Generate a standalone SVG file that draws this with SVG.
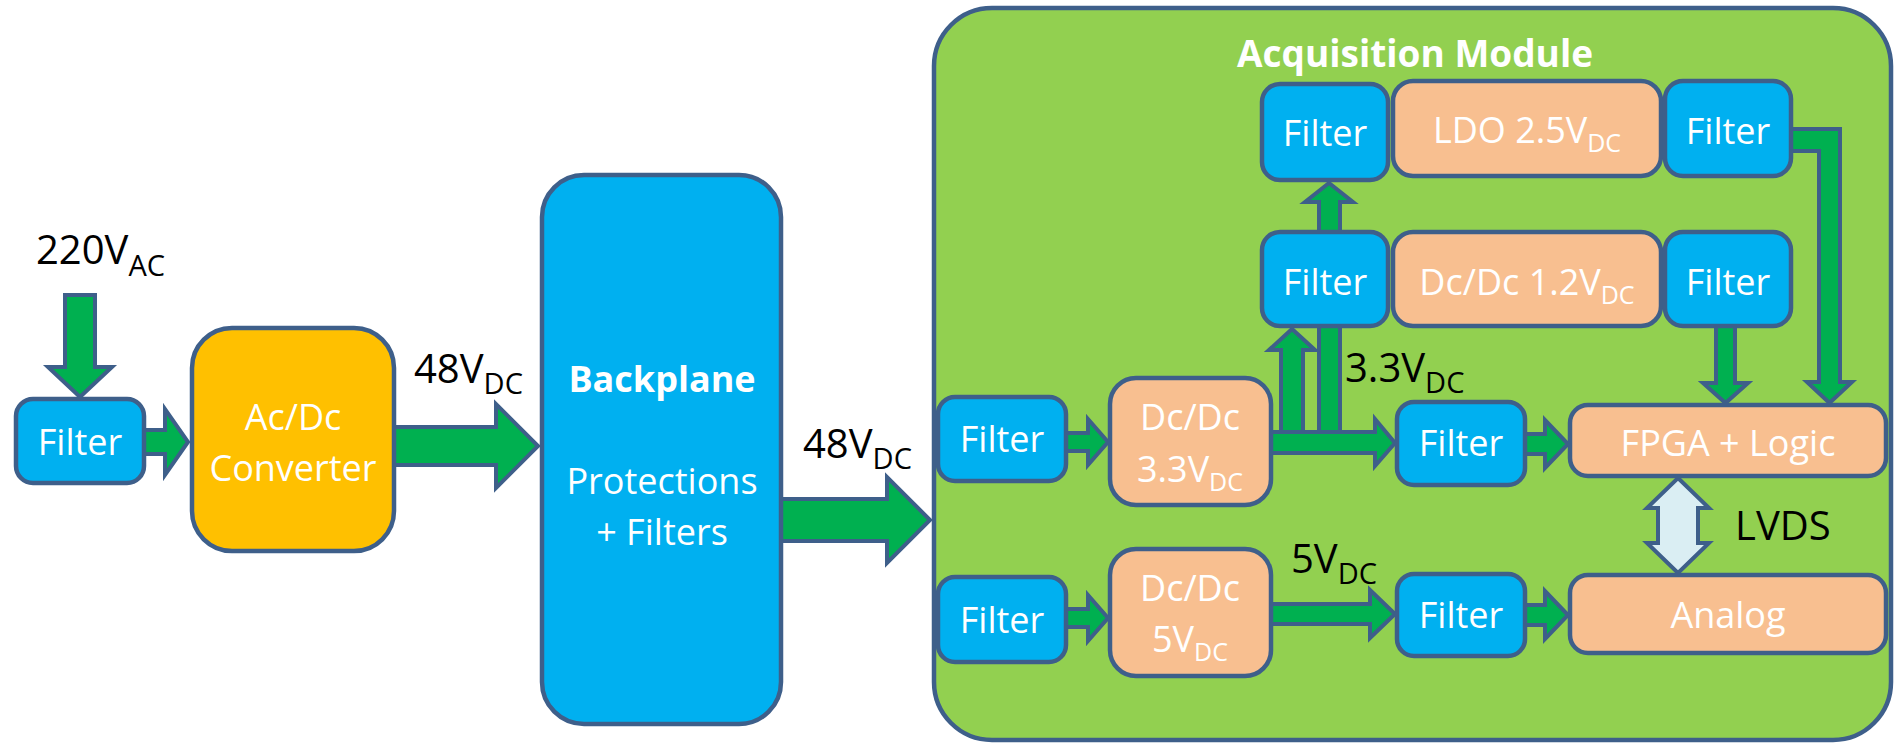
<svg xmlns="http://www.w3.org/2000/svg" width="1895" height="744" viewBox="0 0 1895 744">
<style>
text{font-family:"Open Sans","Noto Sans",sans-serif;}
.box{stroke:#3E5F8A;stroke-width:4.5;}
.blue{fill:#00B0F0;}
.peach{fill:#F8BF90;}
.yellow{fill:#FFC000;}
.mod{fill:#92D050;stroke:#3E5F8A;stroke-width:4.5;}
.arr{fill:#00B050;stroke:#3E5F8A;stroke-width:4;stroke-linejoin:miter;}
.lvds{fill:#DAEEF3;stroke:#3E5F8A;stroke-width:4;}
.wt{fill:#FFFFFF;font-size:36px;text-anchor:middle;}
.bt{fill:#000000;font-size:40px;}
.b{font-weight:bold;}
.sub{font-size:29px;}
.wsub{font-size:25px;}
</style>
<rect width="1895" height="744" fill="#FFFFFF"/>

<g id="acquisition-module">
<rect class="mod" x="934" y="8" width="957" height="732" rx="58"/>
<text class="wt b" x="1415" y="67" style="font-size:37px">Acquisition Module</text>
</g>

<g id="connectors">
<polygon class="arr" points="65,295 95,295 95,367 112,367 80,397 48,367 65,367"/>
<polygon class="arr" points="144,430 165,430 165,409 188,442 165,475 165,454 144,454"/>
<polygon class="arr" points="394,427 496,427 496,404 538,446 496,488 496,465 394,465"/>
<polygon class="arr" points="781,499 887,499 887,477 930,520 887,563 887,541 781,541"/>
<polygon class="arr" points="1066,433 1088,433 1088,419 1108,442 1088,465 1088,451 1066,451"/>
<polygon class="arr" points="1066,609 1088,609 1088,595 1108,618 1088,641 1088,627 1066,627"/>
<polygon class="arr" points="1319,440 1319,202 1305,202 1329,183 1353,202 1340,202 1340,440"/>
<polygon class="arr" points="1281,440 1281,350 1269,350 1292,329 1315,350 1303,350 1303,440"/>
<polygon class="arr" points="1271,432 1375,432 1375,419 1395,443 1375,466 1375,453 1271,453"/>
<polygon class="arr" points="1271,604 1370,604 1370,590 1395,614 1370,638 1370,624 1271,624"/>
<polygon class="arr" points="1525,434 1545,434 1545,420 1568,444 1545,468 1545,454 1525,454"/>
<polygon class="arr" points="1525,605 1545,605 1545,591 1568,615 1545,639 1545,625 1525,625"/>
<polygon class="arr" points="1791,129 1840,129 1840,382 1852,382 1829.5,403 1807,382 1819,382 1819,151 1791,151"/>
<polygon class="arr" points="1716,326 1735,326 1735,383 1748,383 1725.5,403 1703,383 1716,383"/>
<polygon class="lvds" points="1678,478 1709,508 1698,508 1698,543 1709,543 1678,573 1647,543 1658,543 1658,508 1647,508"/>
</g>

<g id="labels">
<text class="bt" x="36" y="264">220V<tspan class="sub" dy="12">AC</tspan></text>
<text class="bt" x="414" y="383">48V<tspan class="sub" dy="11">DC</tspan></text>
<text class="bt" x="803" y="458">48V<tspan class="sub" dy="11">DC</tspan></text>
<text class="bt" x="1345" y="382">3.3V<tspan class="sub" dy="11">DC</tspan></text>
<text class="bt" x="1291" y="573">5V<tspan class="sub" dy="11">DC</tspan></text>
<text class="bt" x="1735" y="540">LVDS</text>
</g>

<g id="filter-in">
<rect class="box blue" x="16" y="399" width="128" height="84" rx="17"/>
<text class="wt" x="80" y="455">Filter</text>
</g>

<g id="acdc-converter">
<rect class="box yellow" x="192" y="328" width="202" height="223" rx="40"/>
<text class="wt" x="293" y="430">Ac/Dc</text>
<text class="wt" x="293" y="481">Converter</text>
</g>

<g id="backplane">
<rect class="box blue" x="542" y="175" width="239" height="549" rx="42"/>
<text class="wt b" x="662" y="392">Backplane</text>
<text class="wt" x="662" y="494">Protections</text>
<text class="wt" x="662" y="545">+ Filters</text>
</g>

<g id="filter-ldo-in">
<rect class="box blue" x="1262" y="84" width="126" height="96" rx="18"/>
<text class="wt" x="1325" y="146">Filter</text>
</g>
<g id="ldo-2v5">
<rect class="box peach" x="1393" y="81" width="268" height="95" rx="20"/>
<text class="wt" x="1527" y="143">LDO 2.5V<tspan class="wsub" dy="9">DC</tspan></text>
</g>
<g id="filter-ldo-out">
<rect class="box blue" x="1665" y="81" width="126" height="95" rx="18"/>
<text class="wt" x="1728" y="144">Filter</text>
</g>

<g id="filter-1v2-in">
<rect class="box blue" x="1262" y="232" width="126" height="94" rx="18"/>
<text class="wt" x="1325" y="295">Filter</text>
</g>
<g id="dcdc-1v2">
<rect class="box peach" x="1393" y="232" width="268" height="94" rx="20"/>
<text class="wt" x="1527" y="295">Dc/Dc 1.2V<tspan class="wsub" dy="9">DC</tspan></text>
</g>
<g id="filter-1v2-out">
<rect class="box blue" x="1665" y="232" width="126" height="94" rx="18"/>
<text class="wt" x="1728" y="295">Filter</text>
</g>

<g id="filter-3v3-in">
<rect class="box blue" x="938" y="397" width="128" height="84" rx="17"/>
<text class="wt" x="1002" y="452">Filter</text>
</g>
<g id="dcdc-3v3">
<rect class="box peach" x="1110" y="378" width="161" height="127" rx="26"/>
<text class="wt" x="1190" y="430">Dc/Dc</text>
<text class="wt" x="1190" y="482">3.3V<tspan class="wsub" dy="9">DC</tspan></text>
</g>
<g id="filter-3v3-out">
<rect class="box blue" x="1397" y="402" width="128" height="83" rx="17"/>
<text class="wt" x="1461" y="456">Filter</text>
</g>
<g id="fpga-logic">
<rect class="box peach" x="1570" y="405" width="316" height="71" rx="18"/>
<text class="wt" x="1728" y="456">FPGA + Logic</text>
</g>

<g id="filter-5v-in">
<rect class="box blue" x="938" y="577" width="128" height="85" rx="17"/>
<text class="wt" x="1002" y="633">Filter</text>
</g>
<g id="dcdc-5v">
<rect class="box peach" x="1110" y="549" width="161" height="127" rx="26"/>
<text class="wt" x="1190" y="601">Dc/Dc</text>
<text class="wt" x="1190" y="652">5V<tspan class="wsub" dy="9">DC</tspan></text>
</g>
<g id="filter-5v-out">
<rect class="box blue" x="1397" y="574" width="128" height="82" rx="17"/>
<text class="wt" x="1461" y="628">Filter</text>
</g>
<g id="analog">
<rect class="box peach" x="1570" y="575" width="316" height="78" rx="18"/>
<text class="wt" x="1728" y="628">Analog</text>
</g>
</svg>
